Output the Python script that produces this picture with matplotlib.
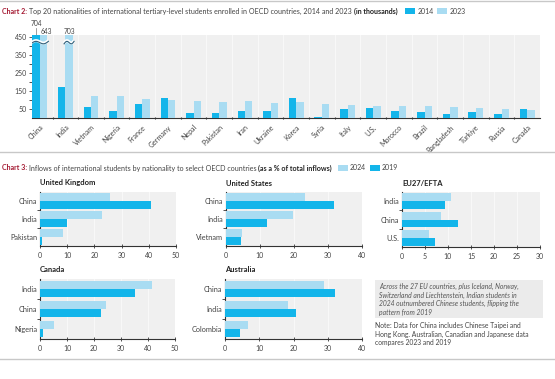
import numpy as np
import matplotlib
matplotlib.use("Agg")
import matplotlib.pyplot as plt
from matplotlib.patches import Rectangle

# chart 2 data (thousands)
countries = ["China", "India", "Vietnam", "Nigeria", "France", "Germany", "Nepal",
             "Pakistan", "Iran", "Ukraine", "Korea", "Syria", "Italy", "U.S.",
             "Morocco", "Brazil", "Bangladesh", "Türkiye", "Russia", "Canada"]
vals_2014 = [704, 173, 59, 39, 79, 112, 28, 29, 40, 37, 110, 6, 51, 53, 39, 33, 22, 31, 22, 48]
vals_2023 = [643, 703, 123, 121, 105, 99, 92, 90, 92, 85, 87, 79, 70, 64, 66, 64, 63, 57, 50, 46]

# chart 3 data (% of total inflows)
uk_cats = ["China", "India", "Pakistan"]
uk_2024 = [25.7, 22.9, 8.5]
uk_2019 = [40.8, 9.8, 0.8]
us_cats = ["China", "India", "Vietnam"]
us_2024 = [23.3, 19.6, 4.6]
us_2019 = [31.7, 12.2, 4.5]
eu_cats = ["India", "China", "U.S."]
eu_2024 = [10.7, 8.5, 5.8]
eu_2019 = [9.4, 12.1, 7.2]
ca_cats = ["India", "China", "Nigeria"]
ca_2024 = [41.5, 24.5, 5.0]
ca_2019 = [35.0, 22.7, 1.2]
au_cats = ["China", "India", "Colombia"]
au_2024 = [28.8, 18.5, 6.8]
au_2019 = [32.0, 20.7, 4.4]

DARK = "#13b5ea"
LIGHT = "#a9dcf2"
RED = "#a3162f"
TXT = "#444444"
PANEL = "#f0f0f0"
AXC = "#333333"

plt.rcParams["font.family"] = ["Lato", "DejaVu Sans"]
W, H = 555, 379
fig = plt.figure(figsize=(W / 100, H / 100), dpi=100)


def px_axes(x, y, w, h):
    return fig.add_axes([x / W, 1 - (y + h) / H, w / W, h / H])


def rich_text(x, y, parts, size=5.1):
    """Draw a row of text pieces with different styles, left to right (pixel coords)."""
    renderer = fig.canvas.get_renderer()
    cx = x
    for txt, kw in parts:
        t = fig.text(cx / W, 1 - y / H, txt, fontsize=size, va="center", ha="left", **kw)
        bb = t.get_window_extent(renderer=renderer)
        cx += bb.width
    return cx


def hline(y, x0=0, x1=W, color="#c8c8c8", lw=1.0):
    fig.add_artist(plt.Line2D([x0 / W, x1 / W], [1 - y / H, 1 - y / H], color=color, lw=lw))


def legend_patch(x, y, color, label, size=5.0):
    fig.add_artist(Rectangle((x / W, 1 - (y + 3) / H), 10 / W, 6 / H,
                             transform=fig.transFigure, color=color, lw=0))
    fig.text((x + 12) / W, 1 - y / H, label, fontsize=size, va="center", color=TXT)


hline(1)
hline(152)
hline(359)

# ---------------- Chart 2 ----------------
end = rich_text(2, 11, [("Chart 2: ", dict(color=RED, fontweight="bold")),
                        ("Top 20 nationalities of international tertiary-level students enrolled in OECD countries, 2014 and 2023 ",
                         dict(color=TXT)),
                        ("(in thousands)", dict(color="#222222", fontweight="bold"))])
legend_patch(end + 8, 11, DARK, "2014")
legend_patch(end + 40, 11, LIGHT, "2023")

ax = px_axes(32, 35, 508, 83)
ax.set_facecolor(PANEL)
x = np.arange(len(countries))
bw = 0.29
ax.bar(x - bw / 2, vals_2014, bw, color=DARK, zorder=3)
ax.bar(x + bw / 2, vals_2023, bw, color=LIGHT, zorder=3)
ax.set_xlim(-0.3, 19.5)
ax.set_ylim(0, 460)
for xv in np.arange(0.5, 19.5, 1):
    ax.axvline(xv, color="#f8f8f8", lw=0.8, zorder=1)
ax.set_yticks([50, 150, 250, 350, 450])
ax.set_yticks([100, 200, 300, 400], minor=True)
ax.tick_params(axis="y", labelsize=5, colors=TXT, length=2, width=0.6, pad=1.5)
ax.tick_params(axis="y", which="minor", length=2, width=0.6, color=AXC)
ax.set_xticks(x)
ax.set_xticklabels(countries, rotation=45, ha="right", rotation_mode="anchor", fontsize=5, color=TXT)
ax.set_xticks(np.arange(0.5, 19.5, 1), minor=True)
ax.tick_params(axis="x", length=0, pad=4)
ax.tick_params(axis="x", which="minor", length=2, width=0.8, direction="inout", color=AXC)
for s in ["top", "right"]:
    ax.spines[s].set_visible(False)
ax.spines["left"].set_color(AXC)
ax.spines["left"].set_linewidth(0.7)
ax.spines["bottom"].set_color(AXC)
ax.spines["bottom"].set_linewidth(0.8)

# axis break squiggles on the bars that run off the scale
def squiggle(x0, x1, yc):
    xs = np.linspace(x0, x1, 30)
    ys = yc + 10 * np.sin((xs - x0) / (x1 - x0) * 2 * np.pi) + (xs - x0) / (x1 - x0) * 14
    ax.plot(xs, ys, color="white", lw=2.2, zorder=4, solid_capstyle="butt")
    ax.plot(xs, ys - 4, color="#2f5f7a", lw=0.8, zorder=5)

squiggle(-bw - 0.05, bw + 0.05, 415)
squiggle(1 - 0.05, 1 + bw + 0.05, 415)

tr = ax.get_xaxis_transform()
ax.text(0 - bw / 2, 1.14, "704", transform=tr, fontsize=4.8, color=TXT, ha="center", va="center")
ax.plot([0 - bw / 2, 0 - bw / 2], [1.0, 1.09], transform=tr, color="#777777", lw=0.5, clip_on=False)
ax.text(0 + bw / 2 + 0.1, 1.045, "643", transform=tr, fontsize=4.8, color=TXT, ha="center", va="center")
ax.text(1 + bw / 2, 1.045, "703", transform=tr, fontsize=4.8, color=TXT, ha="center", va="center")

# ---------------- Chart 3 ----------------
end = rich_text(2, 168, [("Chart 3: ", dict(color=RED, fontweight="bold")),
                         ("Inflows of international students by nationality to select OECD countries ",
                          dict(color=TXT)),
                         ("(as a % of total inflows)", dict(color="#222222", fontweight="bold"))])
legend_patch(end + 6, 168, LIGHT, "2024")
legend_patch(end + 38, 168, DARK, "2019")


def small_panel(rect, title, cats, v24, v19, xmax, step):
    a = px_axes(*rect)
    a.set_facecolor(PANEL)
    y = np.arange(len(cats))
    h = 0.42
    a.barh(y - h / 2, v24, h, color=LIGHT, zorder=3)
    a.barh(y + h / 2, v19, h, color=DARK, zorder=3)
    a.set_ylim(2.5, -0.5)
    a.set_xlim(0, xmax)
    ticks = np.arange(0, xmax + 0.1, step)
    a.set_xticks(ticks)
    a.set_xticklabels([f"{t:g}" for t in ticks])
    for t in ticks[1:-1]:
        a.axvline(t, color="#f8f8f8", lw=0.8, zorder=1)
    a.set_yticks(y)
    a.set_yticklabels(cats)
    a.set_yticks([0.5, 1.5], minor=True)
    a.tick_params(axis="y", length=0, labelsize=5.3, colors=TXT, pad=2)
    a.tick_params(axis="y", which="minor", length=2, width=0.6, color=AXC)
    a.tick_params(axis="x", labelsize=5, colors=TXT, length=2.5, width=0.6,
                  direction="inout", pad=3, color=AXC)
    for s in ["top", "right"]:
        a.spines[s].set_visible(False)
    for s in ["left", "bottom"]:
        a.spines[s].set_color(AXC)
        a.spines[s].set_linewidth(0.8)
    fig.text(rect[0] / W, 1 - (rect[1] - 9) / H, title, fontsize=5.5,
             fontweight="bold", color="#222222", va="center")
    return a


small_panel((40, 192, 136, 54), "United Kingdom", uk_cats, uk_2024, uk_2019, 50, 10)
small_panel((226, 192, 136, 54), "United States", us_cats, us_2024, us_2019, 40, 10)
small_panel((402, 192, 138, 55), "EU27/EFTA", eu_cats, eu_2024, eu_2019, 30, 5)
small_panel((40, 279, 135, 60), "Canada", ca_cats, ca_2024, ca_2019, 50, 10)
small_panel((225, 279, 137, 60), "Australia", au_cats, au_2024, au_2019, 40, 10)

# callout box and note
fig.add_artist(Rectangle((375 / W, 1 - 318 / H), 168 / W, 38 / H,
                         transform=fig.transFigure, color="#ebebeb", lw=0))
fig.text(379 / W, 1 - 283 / H,
         "Across the 27 EU countries, plus Iceland, Norway,\n"
         "Switzerland and Liechtenstein, Indian students in\n"
         "2024 outnumbered Chinese students, flipping the\n"
         "pattern from 2019",
         fontsize=4.9, style="italic", color="#555555", va="top", linespacing=1.25)
fig.text(375 / W, 1 - 322 / H,
         "Note: Data for China includes Chinese Taipei and\n"
         "Hong Kong. Australian, Canadian and Japanese data\n"
         "compares 2023 and 2019",
         fontsize=4.9, color=TXT, va="top", linespacing=1.25)

fig.savefig("out.png", dpi=100, facecolor="white")
